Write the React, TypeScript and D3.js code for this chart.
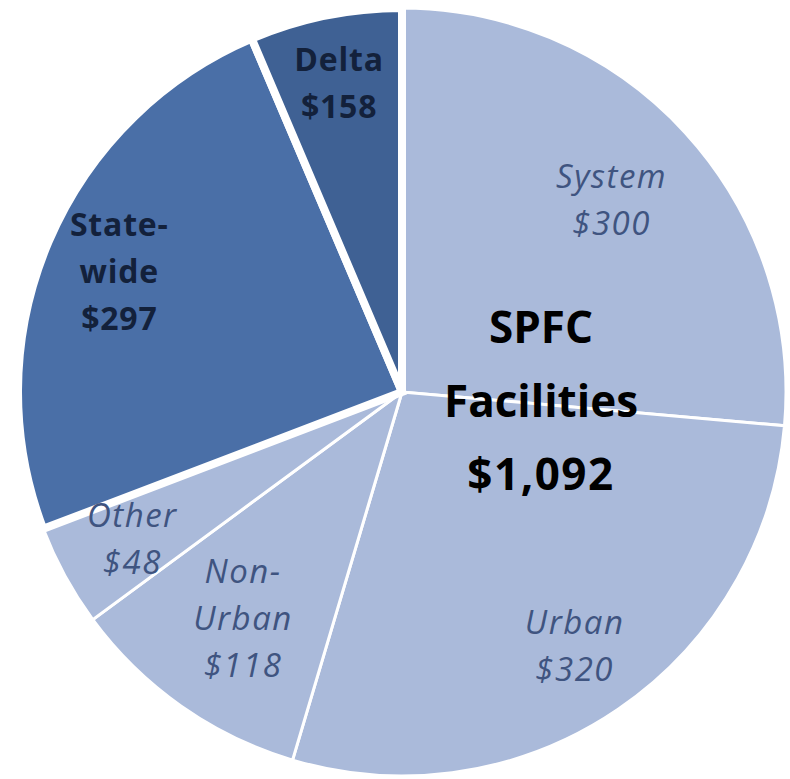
import React from "react";
import * as d3 from "d3";

// Slice names and their dollar labels
const categories = ["System", "Urban", "Non-Urban", "Other", "State-wide", "Delta"];
const labelLines = [["System"], ["Urban"], ["Non-", "Urban"], ["Other"], ["State-", "wide"], ["Delta"]];
const dollarValues = [300, 320, 118, 48, 297, 158];
// Share of the circle each slice occupies in the picture (percent)
const sliceShares = [26.4, 28.2, 10.3, 4.3, 24.4, 6.4];
const groups = ["spfc", "spfc", "spfc", "spfc", "other", "other"];
const centerLines = ["SPFC", "Facilities", "$1,092"];

const W = 790;
const H = 779;
const cx = 402;
const cy = 392;
const R = 384;

const fillColors = ["#aabadA", "#aabada", "#aabada", "#aabada", "#4a6fa7", "#3f6194"];
const labelRadiusFrac = [0.74, 0.8, 0.72, 0.8, 0.8, 0.82];
const FONT = "'Open Sans', 'Noto Sans', sans-serif";

export default function App() {
  const pie = d3
    .pie<number>()
    .sort(null)
    .value((d) => d)
    .startAngle(0)
    .endAngle(2 * Math.PI);
  const arcs = pie(sliceShares);
  const arcGen = d3.arc<d3.PieArcDatum<number>>().innerRadius(0).outerRadius(R);

  const order = arcs
    .map((a, i) => i)
    .sort((a, b) => (groups[a] === "spfc" ? 0 : 1) - (groups[b] === "spfc" ? 0 : 1));

  const fmt = (v: number) => "$" + d3.format(",")(v);

  return (
    <svg width={W} height={H} style={{ position: "absolute", left: 0, top: 0, background: "#fff" }}>
      <g transform={`translate(${cx},${cy})`}>
        {order.map((i) => (
          <path
            key={categories[i]}
            d={arcGen(arcs[i]) || ""}
            fill={fillColors[i]}
            stroke="#fff"
            strokeWidth={groups[i] === "spfc" ? 3 : 8}
            strokeLinejoin="miter"
          />
        ))}
        {arcs.map((a, i) => {
          const lr = R * labelRadiusFrac[i];
          const lab = d3.arc<d3.PieArcDatum<number>>().innerRadius(lr).outerRadius(lr);
          const [x, y] = lab.centroid(a);
          const lines = [...labelLines[i], fmt(dollarValues[i])];
          const isBold = groups[i] !== "spfc";
          const fs = isBold ? 32 : 33;
          const lh = 47;
          const cap = fs * 0.714;
          const firstBase = y - ((lines.length - 1) * lh) / 2 + cap / 2;
          return (
            <text
              key={"l" + i}
              textAnchor="middle"
              fontFamily={FONT}
              fontSize={fs}
              fontStyle={isBold ? "normal" : "italic"}
              fontWeight={isBold ? 700 : 400}
              letterSpacing={isBold ? 0.8 : 1.5}
              fill={isBold ? "#13213b" : "#3f5480"}
            >
              {lines.map((t, k) => (
                <tspan key={k} x={x} y={firstBase + k * lh}>
                  {t}
                </tspan>
              ))}
            </text>
          );
        })}
      </g>
      <text textAnchor="middle" fontFamily={FONT} fontSize={44} fontWeight={700} fill="#000">
        {centerLines.map((t, k) => (
          <tspan key={k} x={541} y={343 + k * 73.5} letterSpacing={k === 2 ? 1.5 : 0}>
            {t}
          </tspan>
        ))}
      </text>
    </svg>
  );
}
